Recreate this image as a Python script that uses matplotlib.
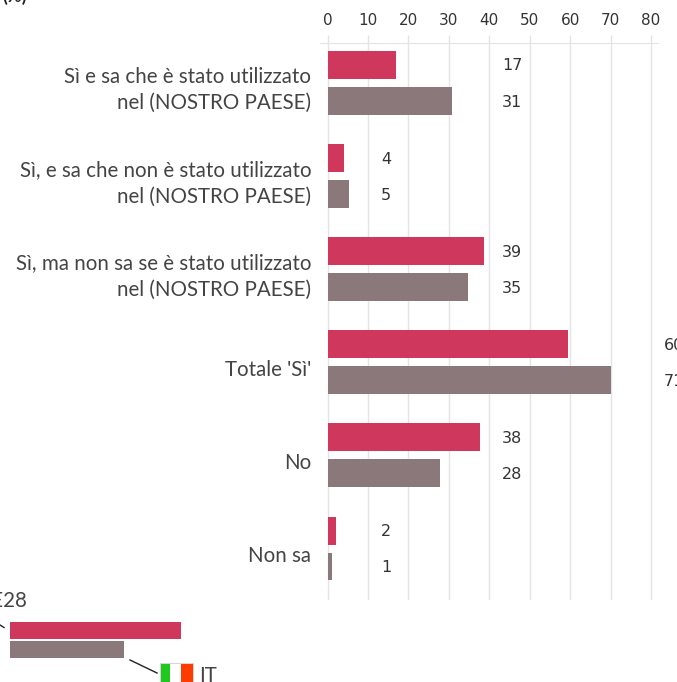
import math

import matplotlib
matplotlib.use("agg")
import matplotlib.pyplot as plt
from matplotlib.lines import Line2D
from matplotlib.patches import Rectangle
from matplotlib.transforms import ScaledTranslation

CATEGORIES = [
    "Sì e sa che è stato utilizzato\nnel (NOSTRO PAESE)",
    "Sì, e sa che non è stato utilizzato\nnel (NOSTRO PAESE)",
    "Sì, ma non sa se è stato utilizzato\nnel (NOSTRO PAESE)",
    "Totale 'Sì'",
    "No",
    "Non sa",
]
# bar lengths as measured, the printed labels are rounded
UE28_VALUES = [17.0, 4.1, 38.7, 59.5, 37.7, 2.1]
IT_VALUES = [30.8, 5.2, 34.8, 70.2, 27.8, 1.2]
UE28_LABELS = [17, 4, 39, 60, 38, 2]
IT_LABELS = [31, 5, 35, 71, 28, 1]
X_TICKS = [0, 10, 20, 30, 40, 50, 60, 70, 80]

RED = "#d0375c"
GREY = "#8a787a"
GRID = "#e4e4e4"
TEXT = "#333333"
LABEL_TEXT = "#444444"
WIDTH, HEIGHT = 677, 682

plt.rcParams['font.family'] = ['Lato', 'DejaVu Sans']


def fig_xy(x, y):
    # pixel position in the image -> figure fraction
    return x / WIDTH, 1 - y / HEIGHT


def add_rect(fig, x0, y0, x1, y1, color):
    left, bottom = fig_xy(x0, y1)
    fig.patches.append(Rectangle((left, bottom), (x1 - x0) / WIDTH, (y1 - y0) / HEIGHT,
                                 transform=fig.transFigure, facecolor=color, edgecolor='none'))


fig = plt.figure(figsize=(WIDTH / 100, HEIGHT / 100), dpi=100)
ax = fig.add_axes([320 / WIDTH, 1 - 600 / HEIGHT, 338 / WIDTH, 557 / HEIGHT])

px_per_unit = 4.04
step = 93.2
ax.set_xlim(-7.5 / px_per_unit, 80 + 7 / px_per_unit)
ax.set_ylim(5 + 51.5 / step, -40 / step)

positions = list(range(len(CATEGORIES)))
ax.barh([p - 0.193 for p in positions], UE28_VALUES, height=0.30, color=RED, zorder=3)
ax.barh([p + 0.193 for p in positions], IT_VALUES, height=0.30, color=GREY, zorder=3)

# value labels sit in one column per group, after the next round ten
for p, a, b in zip(positions, UE28_LABELS, IT_LABELS):
    label_x = math.ceil(max(a, b) / 10) * 10 + 3.2
    for offset, value in ((-0.183, a), (0.205, b)):
        ax.text(label_x, p + offset, str(value), va='center', ha='left', fontsize=11.5,
                color=TEXT, family=['DejaVu Sans'], clip_on=False, zorder=4)

ax.xaxis.tick_top()
ax.set_xticks(X_TICKS)
ax.set_xticklabels([str(t) for t in X_TICKS], family=['DejaVu Sans'], fontsize=11, color=TEXT)
ax.tick_params(axis='x', length=6, width=1, color=GRID, pad=5)
ax.grid(axis='x', color=GRID, linewidth=1, zorder=0)

ax.set_yticks(positions)
ax.set_yticklabels(CATEGORIES, fontsize=14.8, color=LABEL_TEXT, linespacing=1.4, ha='right')
ax.tick_params(axis='y', length=0, pad=6.3)
# labels hang a little below the centre of their group
for label, category in zip(ax.get_yticklabels(), CATEGORIES):
    drop = 1.4 if '\n' in category else 3.9
    shift = ScaledTranslation(0, -drop / 72, fig.dpi_scale_trans)
    label.set_transform(label.get_transform() + shift)

for side in ('left', 'right', 'bottom'):
    ax.spines[side].set_visible(False)
ax.spines['top'].set_color(GRID)

# legend block at the bottom left
add_rect(fig, 10, 622, 181, 639, RED)
add_rect(fig, 10, 641, 124, 658, GREY)
add_rect(fig, 159.5, 662.5, 193.5, 690, '#d4d4d4')
add_rect(fig, 160.5, 663.5, 170, 690, '#1ec81e')
add_rect(fig, 170, 663.5, 181, 690, '#ffffff')
add_rect(fig, 181, 663.5, 192.5, 690, '#ff3c00')
fig.add_artist(Line2D(*zip(fig_xy(130, 660), fig_xy(157, 673)), color='#222222', linewidth=1))
fig.add_artist(Line2D(*zip(fig_xy(0, 625), fig_xy(4, 627.5)), color='#222222', linewidth=1))

x, y = fig_xy(27, 607)
fig.text(x, y, "UE28", ha='right', va='baseline', fontsize=14.8, color=LABEL_TEXT)
x, y = fig_xy(199, 682.5)
fig.text(x, y, "IT", ha='left', va='baseline', fontsize=14.8, color=LABEL_TEXT)
x, y = fig_xy(2, 2)
fig.text(x, y, "(%)", ha='left', va='baseline', fontsize=13, fontweight='bold', color='#222222')

fig.savefig("out.png", dpi=100)
plt.close(fig)
